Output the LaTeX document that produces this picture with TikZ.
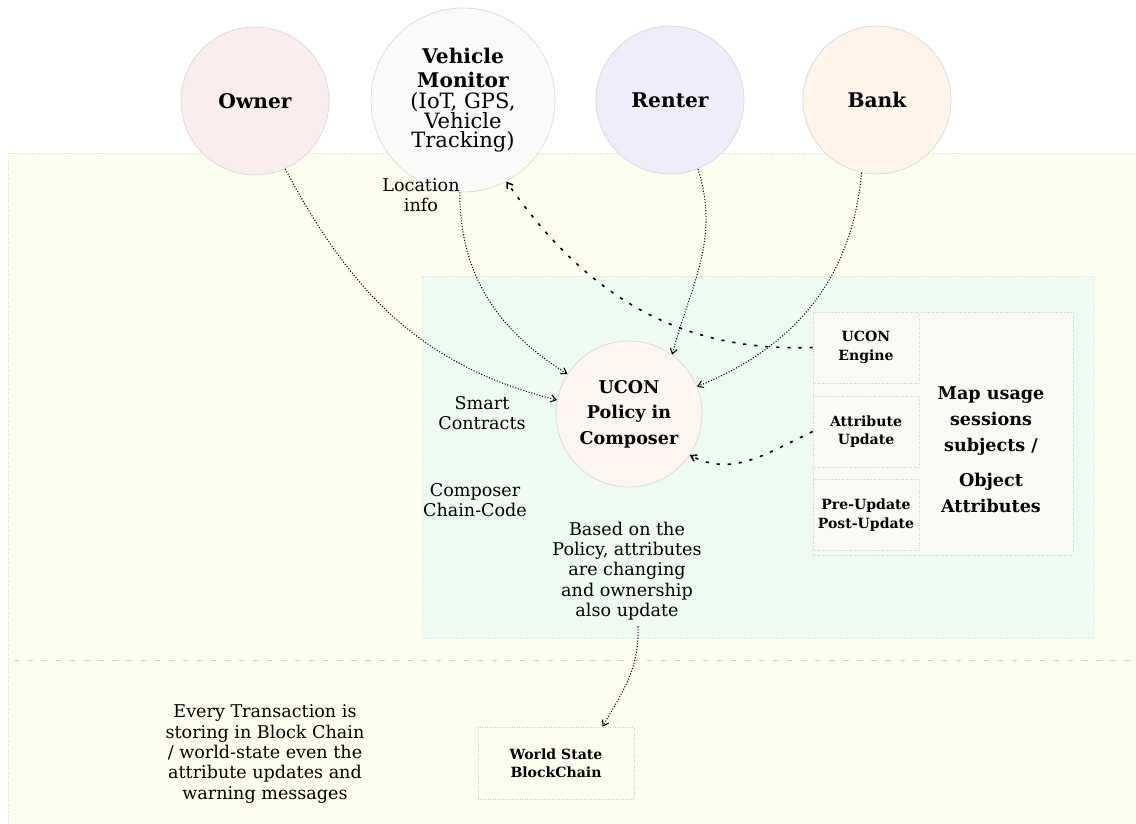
\documentclass[tikz,border=0pt]{standalone}
\usepackage{fontspec}
\setmainfont{DejaVu Serif}
\usetikzlibrary{arrows.meta}

\definecolor{fondo}{HTML}{FCFEF0}
\definecolor{verde}{HTML}{EEFBF1}
\definecolor{rosa}{HTML}{FBEDED}
\definecolor{blanco}{HTML}{FCFAF8}
\definecolor{lila}{HTML}{EDEDFB}
\definecolor{naranja}{HTML}{FEF4EA}
\definecolor{crema}{HTML}{FCF5F0}
\definecolor{gris}{HTML}{F9F9F6}

\tikzset{
  actor/.style={circle, draw=black!15, minimum size=2.96cm, inner sep=0pt,
    align=center, font=\bfseries\fontsize{11.5}{14}\selectfont},
  caja/.style={draw=black!20, densely dotted, fill=gris, inner sep=0pt,
    minimum width=2.12cm, minimum height=1.42cm, align=center,
    font=\bfseries\fontsize{8}{10.5}\selectfont},
  texto/.style={align=center, font=\fontsize{10}{11.6}\selectfont},
  flecha/.style={densely dotted, line width=0.6pt,
    -{Straight Barb[length=3pt,width=4pt]}},
  rayas/.style={dash pattern=on 1.8pt off 4.5pt, line width=0.9pt,
    -{Straight Barb[length=3pt,width=4pt]}}
}

\begin{document}
\begin{tikzpicture}[x=0.02cm, y=-0.02cm]
\useasboundingbox (0,0) rectangle (1136,823);

% Fondo de la red
\fill[fondo] (8,153) rectangle (1136,823);
\draw[black!15, densely dotted] (8,823) -- (8,153) -- (1136,153);
\draw[black!18, dash pattern=on 3pt off 5pt] (14,660) -- (1130,660);

% Zona del chain-code
\draw[fill=verde, draw=black!12, densely dotted] (422,276) rectangle (1094,638);

% Participantes
\node[actor, fill=rosa] (owner) at (255,101) {Owner};
\node[actor, fill=blanco, minimum size=3.68cm] (monitor) at (463,100)
  {Vehicle\\Monitor\\[-2pt]{\mdseries\fontsize{12}{14}\selectfont (IoT, GPS,}\\[-3pt]{\mdseries\fontsize{12}{14}\selectfont Vehicle}\\[-3pt]{\mdseries\fontsize{12}{14}\selectfont Tracking)}};
\node[actor, fill=lila] (renter) at (670,100) {Renter};
\node[actor, fill=naranja] (bank) at (877,100) {Bank};
\node[actor, fill=crema, minimum size=2.92cm, font=\bfseries\fontsize{10}{14.5}\selectfont]
  (ucon) at (629,414) {UCON\\Policy in\\Composer};

% Cajas del motor UCON
\node[caja, minimum width=5.2cm, minimum height=4.86cm] (mapa) at (943,433.5) {};
\node[caja] (motor) at (866,347.5) {UCON\\Engine};
\node[caja] (atrib) at (866,431.5) {Attribute\\Update};
\node[caja] (prepost) at (866,515) {Pre-Update\\Post-Update};
\node[align=center, font=\bfseries\fontsize{10}{14.8}\selectfont] (usos) at (991,450)
  {Map usage\\sessions\\subjects /\\[5pt]Object\\Attributes};

\node[caja, fill=fondo, minimum width=3.12cm, minimum height=1.44cm] (mundo) at (556,763)
  {World State\\BlockChain};

% Textos sueltos
\node[texto] (ubica) at (421,195) {Location\\info};
\node[texto] (smart) at (482,413) {Smart\\Contracts};
\node[texto] (compo) at (475,500) {Composer\\Chain-Code};
\node[texto] (basado) at (627,571) {Based on the\\Policy, attributes\\are changing\\and ownership\\also update};
\node[texto] (cada) at (265,754) {Every Transaction is\\storing in Block Chain\\/ world-state even the\\attribute updates and\\warning messages};

% Conexiones
\draw[flecha] (owner.-66) to[out=-62, in=166] (ucon.169);
\draw[flecha] (monitor.-92) to[out=-90, in=148] (ucon.147);
\draw[flecha] (renter.-68) to[out=-72, in=75] (ucon.54);
\draw[flecha] (bank.-102) to[out=-95, in=22] (ucon.22);
\draw[rayas] (motor.west) to[out=182, in=-55] (monitor.-62);
\draw[rayas] (atrib.west) to[out=205, in=-28] (ucon.-34);
\draw[flecha] (basado.south) ++(11,0) to[out=-88, in=60] (mundo.38);
\end{tikzpicture}
\end{document}
